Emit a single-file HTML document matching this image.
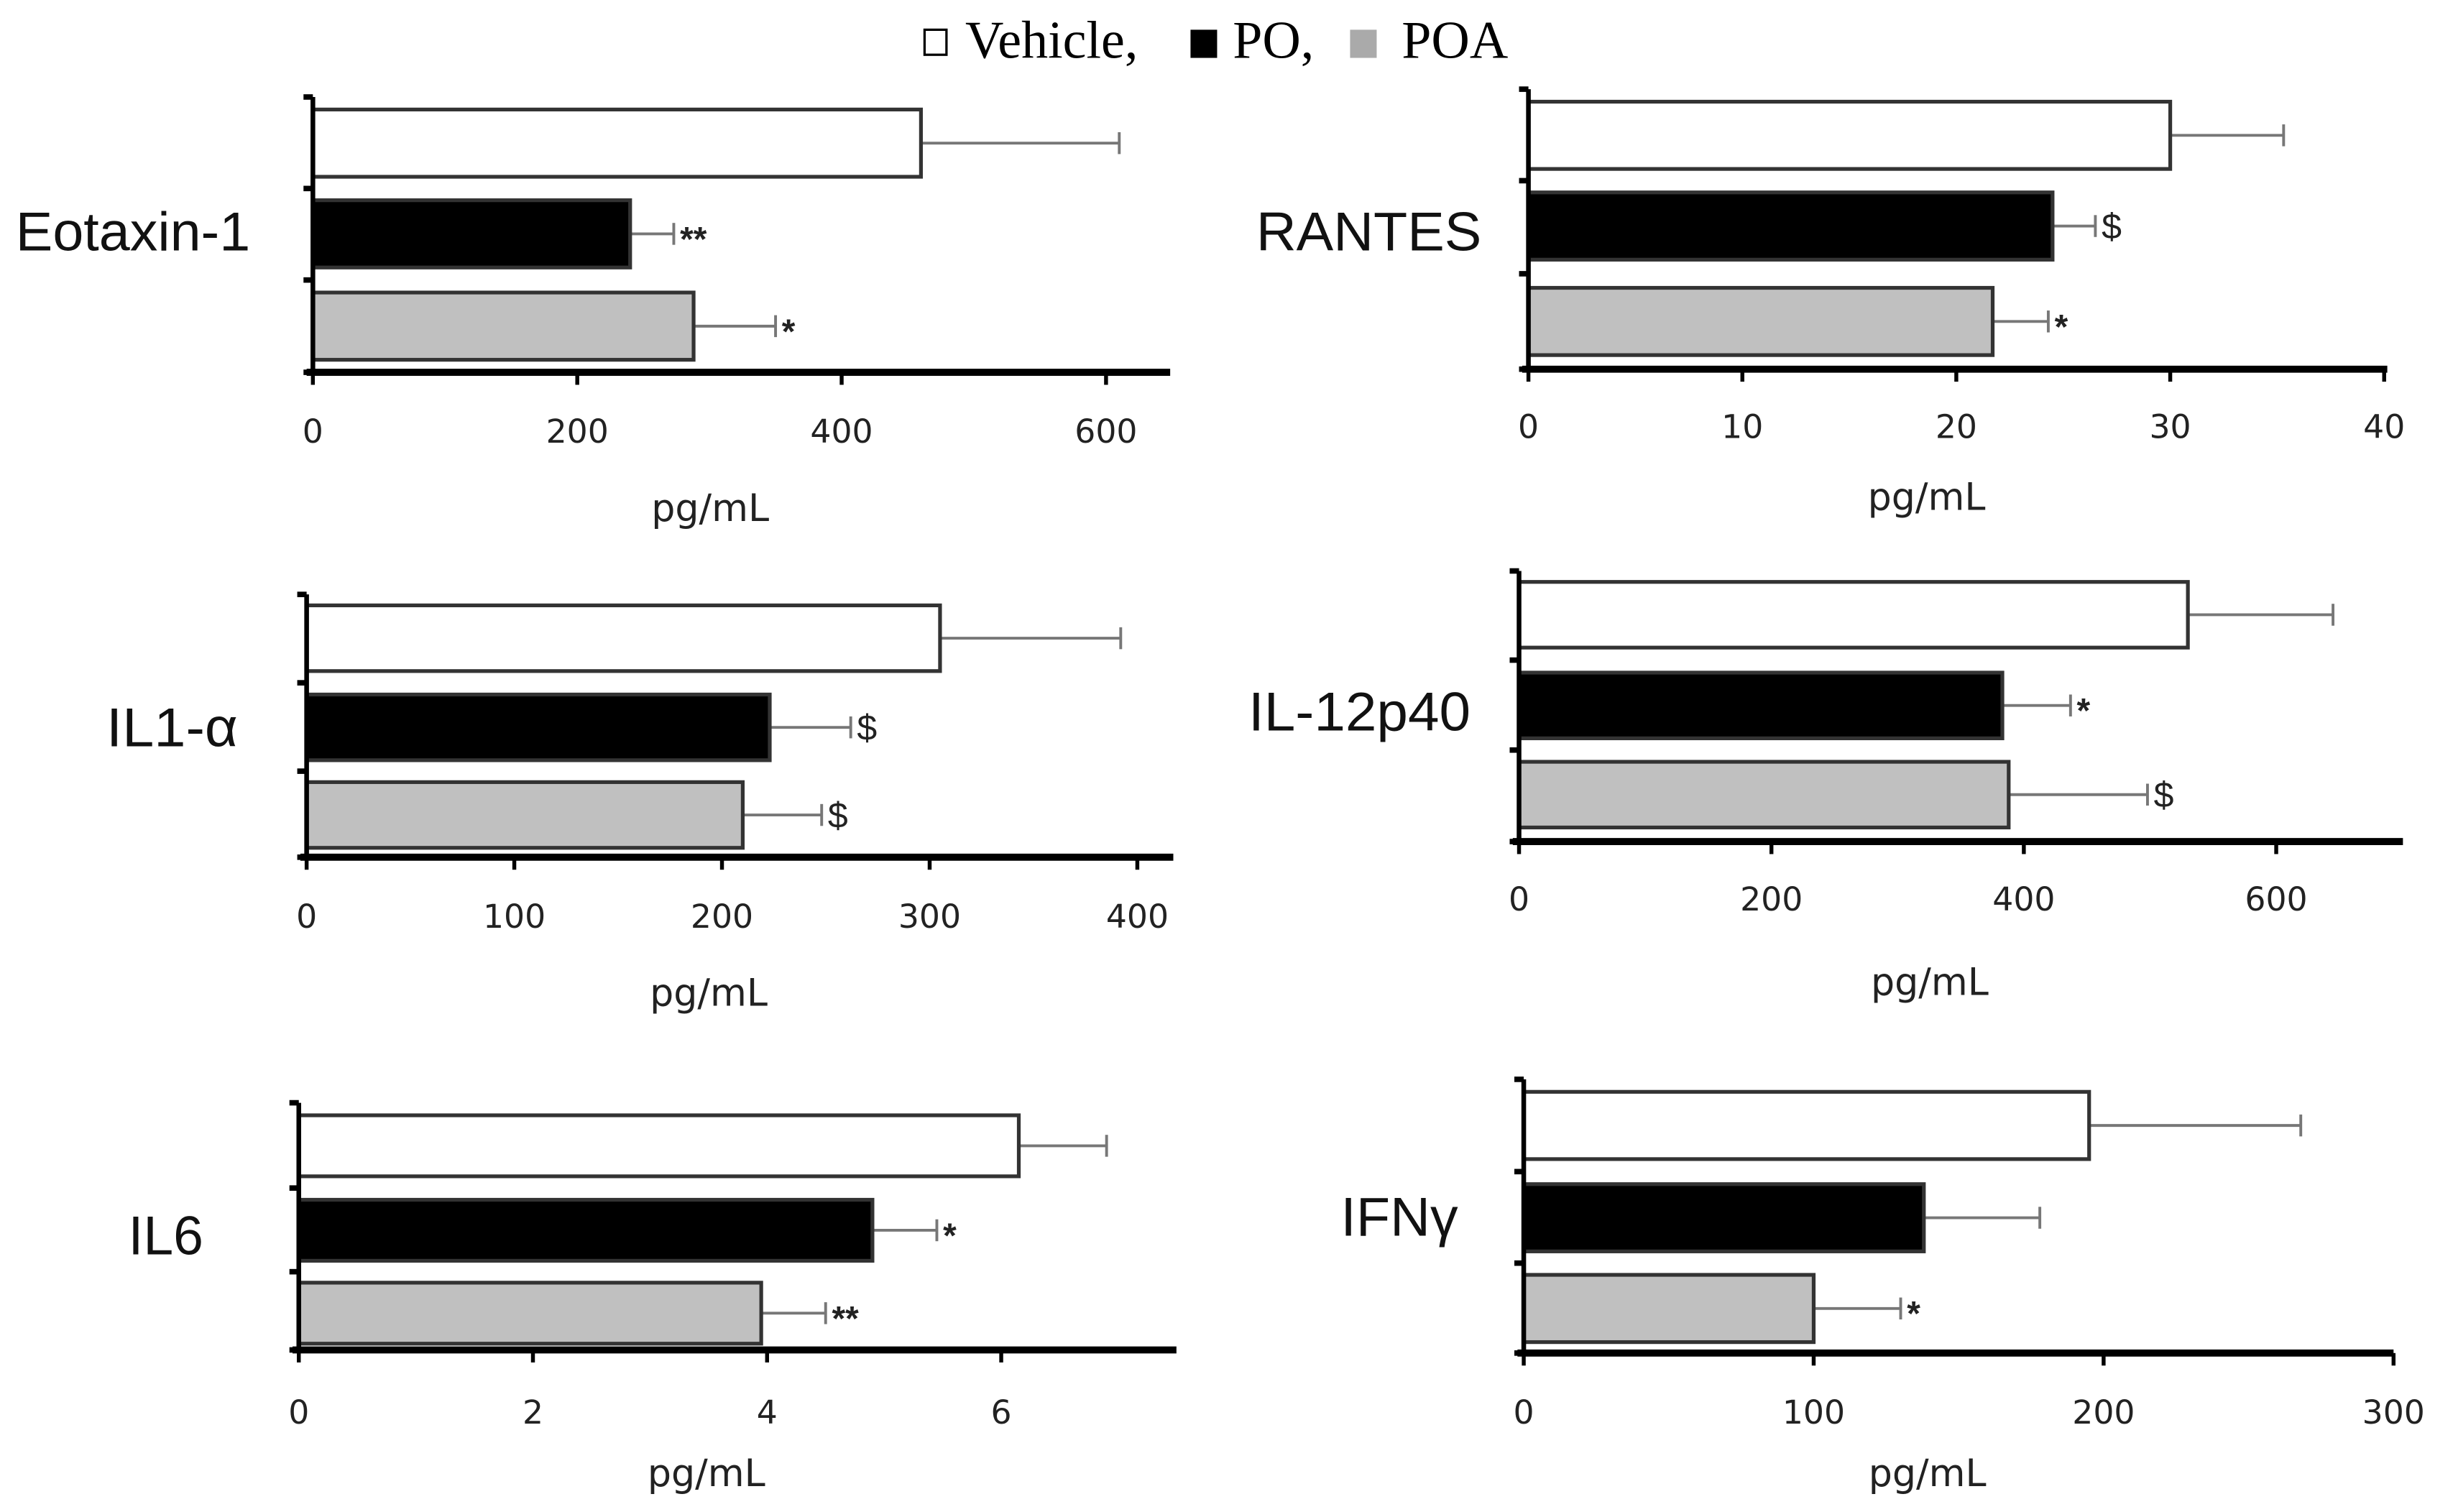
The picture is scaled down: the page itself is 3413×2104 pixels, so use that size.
<!DOCTYPE html>
<html><head><meta charset="utf-8"><style>
html,body{margin:0;padding:0;background:#fff;}
svg{display:block;}
</style></head><body>
<svg id="chart" xmlns="http://www.w3.org/2000/svg" width="3413" height="2104" viewBox="0 0 1568 966.6">
<g font-family="Liberation Serif, serif" font-size="34">
<rect x="591" y="19" width="14" height="16" fill="#fff" stroke="#000" stroke-width="1.5"/>
<text x="617" y="37">Vehicle,</text>
<rect x="761" y="19" width="17" height="18" fill="#000"/>
<text x="788" y="37">PO,</text>
<rect x="863" y="19" width="17" height="18" fill="#aaa"/>
<text x="896" y="37">POA</text>
</g>
</svg>
<script>
const panelNames = ["Eotaxin-1","RANTES","IL1-α","IL-12p40","IL6","IFNγ"];
const vehicleValues = [460, 30, 305, 530, 6.15, 195];
const poValues = [240, 24.5, 223, 383, 4.9, 138];
const poaValues = [288, 21.7, 210, 388, 3.95, 100];
const vehicleErr = [610, 35.3, 392, 645, 6.9, 268];
const poErr = [273, 26.5, 262, 437, 5.45, 178];
const poaErr = [350, 24.3, 248, 498, 4.5, 130];
const poMarks = ["**","$","$","*","*",""];
const poaMarks = ["*","*","$","$","**","*"];
const vehicleMarks = ["","","","","",""];
const tickLabels = [[0,200,400,600],[0,10,20,30,40],[0,100,200,300,400],[0,200,400,600],[0,2,4,6],[0,100,200,300]];

// layout (not data)
const layout = [
 {x0:200,x1:748,scalePx:507/600,yTop:62,yBot:238,bars:[70,128,187],bh:43,tickY:283,unitY:333,lx:10,ly:160,lw:150},
 {x0:977,x1:1526,scalePx:547/40,yTop:57,yBot:236,bars:[65,123,184],bh:43,tickY:280,unitY:326,lx:803,ly:160,lw:144},
 {x0:196,x1:750,scalePx:531/400,yTop:380,yBot:548,bars:[387,444,500],bh:42,tickY:593,unitY:643,lx:68,ly:477,lw:84},
 {x0:971,x1:1536,scalePx:484/600,yTop:365,yBot:538,bars:[372,430,487],bh:42,tickY:582,unitY:636,lx:798,ly:467,lw:142},
 {x0:191,x1:752,scalePx:449/6,yTop:705,yBot:863,bars:[713,767,820],bh:39,tickY:910,unitY:950,lx:82,ly:802,lw:48},
 {x0:974,x1:1530,scalePx:556/300,yTop:690,yBot:865,bars:[698,757,815],bh:43,tickY:910,unitY:950,lx:857,ly:790,lw:75}
];
const fills = ["#fff","#000","#c0c0c0"];
const seriesKeys = ["vehicle","po","poa"];
const NS = "http://www.w3.org/2000/svg";
const svg = document.getElementById("chart");
function mk(tag, attrs, parent){ const e=document.createElementNS(NS,tag); for(const k in attrs) e.setAttribute(k,attrs[k]); parent.appendChild(e); return e; }

panelNames.forEach((name,i)=>{
  const L = layout[i];
  const xs = v => L.x0 + v*L.scalePx;
  const g = mk("g",{},svg);
  
  
  const vals=[vehicleValues[i],poValues[i],poaValues[i]];
  const errs=[vehicleErr[i],poErr[i],poaErr[i]];
  const marks=[vehicleMarks[i],poMarks[i],poaMarks[i]];
  vals.forEach((v,j)=>{
    const y=L.bars[j], cy=y+L.bh/2;
    const eb = mk("line",{x1:xs(v),x2:xs(errs[j]),y1:cy,y2:cy,stroke:"#777","stroke-width":1.8},g);
    
    
    const cap = mk("line",{x1:xs(errs[j]),x2:xs(errs[j]),y1:cy-7,y2:cy+7,stroke:"#777","stroke-width":1.8},g);
    
    
    const r = mk("rect",{x:L.x0,y:y,width:xs(v)-L.x0,height:L.bh,fill:fills[j],stroke:"#333","stroke-width":2.4},g);
    
    
    if(marks[j]){
      const t = mk("text",{x:xs(errs[j])+4,y:cy+(marks[j]==="$"?8:11),"font-family":"Liberation Sans, sans-serif","font-size":marks[j]==="$"?23:22,"font-weight":marks[j]==="$"?"normal":"bold",fill:"#222"},g);
      t.textContent=marks[j];
      
      
    }
  });
  const ya = mk("line",{x1:L.x0,x2:L.x0,y1:L.yTop,y2:L.yBot+2,stroke:"#000","stroke-width":3},g);
  
  
  [L.yTop, (L.bars[1]+L.bars[0]+L.bh)/2, (L.bars[2]+L.bars[1]+L.bh)/2, L.yBot].forEach(ty=>{
    const tk = mk("line",{x1:L.x0-6,x2:L.x0,y1:ty,y2:ty,stroke:"#000","stroke-width":3.5},g);
    
    
  });
  const xa = mk("line",{x1:L.x0-4,x2:L.x1,y1:L.yBot,y2:L.yBot,stroke:"#000","stroke-width":4.5},g);
  
  
  tickLabels[i].forEach(tv=>{
    const tk = mk("line",{x1:xs(tv),x2:xs(tv),y1:L.yBot,y2:L.yBot+8,stroke:"#000","stroke-width":2.5},g);
    
    
    const tl = mk("text",{x:xs(tv),y:L.tickY,"text-anchor":"middle","font-family":"DejaVu Sans, sans-serif","font-size":21,fill:"#222"},g);
    tl.textContent=tv;
    
    
  });
  const ut = mk("text",{x:(L.x0+L.x1)/2-20,y:L.unitY,"text-anchor":"middle","font-family":"DejaVu Sans, sans-serif","font-size":24,fill:"#222"},g);
  ut.textContent="pg/mL";
  
  
  const lb = mk("text",{x:L.lx,y:L.ly,"font-family":"Liberation Sans, sans-serif","font-size":35,fill:"#111",textLength:L.lw,lengthAdjust:"spacingAndGlyphs"},g);
  lb.textContent=name;
  
  
});
</script>
</body></html>
